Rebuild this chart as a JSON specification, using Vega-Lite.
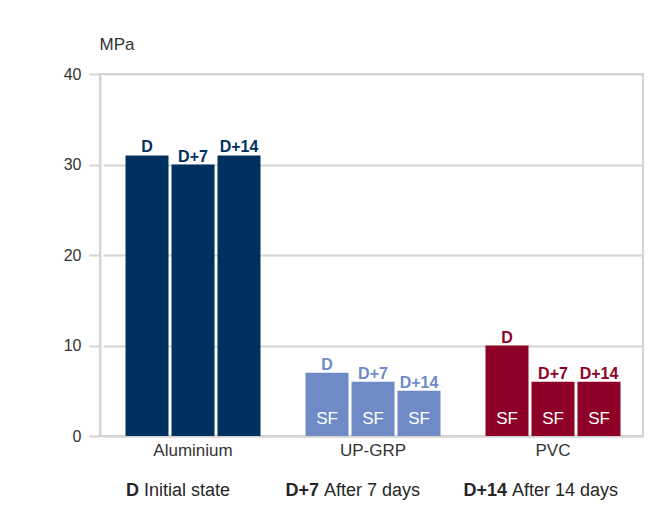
{
  "$schema": "https://vega.github.io/schema/vega-lite/v6.json",
  "width": 543,
  "height": 362,
  "autosize": "none",
  "padding": {"left": 100, "top": 74, "right": 17, "bottom": 82},
  "background": "white",
  "config": {
    "font": "Liberation Sans",
    "view": {"stroke": "#d4d4d4", "strokeWidth": 2}
  },
  "datasets": {
    "bars": [
      {"material": "Aluminium", "time": "D", "value": 31, "mode": ""},
      {"material": "Aluminium", "time": "D+7", "value": 30, "mode": ""},
      {"material": "Aluminium", "time": "D+14", "value": 31, "mode": ""},
      {"material": "UP-GRP", "time": "D", "value": 7, "mode": "SF"},
      {"material": "UP-GRP", "time": "D+7", "value": 6, "mode": "SF"},
      {"material": "UP-GRP", "time": "D+14", "value": 5, "mode": "SF"},
      {"material": "PVC", "time": "D", "value": 10, "mode": "SF"},
      {"material": "PVC", "time": "D+7", "value": 6, "mode": "SF"},
      {"material": "PVC", "time": "D+14", "value": 6, "mode": "SF"}
    ],
    "legend": [
      {"material": "Aluminium", "key": "D", "desc": "Initial state"},
      {"material": "UP-GRP", "key": "D+7", "desc": "After 7 days"},
      {"material": "PVC", "key": "D+14", "desc": "After 14 days"}
    ]
  },
  "data": {"name": "bars"},
  "encoding": {
    "x": {
      "field": "material",
      "type": "nominal",
      "sort": ["Aluminium", "UP-GRP", "PVC"],
      "scale": {"range": [3, 543], "paddingInner": 0, "paddingOuter": 0},
      "axis": {
        "title": null,
        "labelAngle": 0,
        "labelFontSize": 17,
        "labelColor": "#333333",
        "labelPadding": 6,
        "ticks": false,
        "grid": false,
        "domainColor": "#d4d4d4",
        "domainWidth": 2
      }
    }
  },
  "layer": [
    {
      "mark": {"type": "bar"},
      "encoding": {
        "xOffset": {
          "field": "time",
          "type": "nominal",
          "sort": ["D", "D+7", "D+14"],
          "scale": {"paddingInner": 0.065, "paddingOuter": 0.489}
        },
        "y": {
          "field": "value",
          "type": "quantitative",
          "scale": {"domain": [0, 40]},
          "axis": {
            "values": [0, 10, 20, 30, 40],
            "title": "MPa",
            "titleAngle": 0,
            "titleAlign": "left",
            "titleBaseline": "alphabetic",
            "titleX": -1,
            "titleY": -25,
            "titleFontWeight": "normal",
            "titleFontSize": 17,
            "titleColor": "#333333",
            "labelFontSize": 16,
            "labelColor": "#333333",
            "labelPadding": 8,
            "tickSize": 11,
            "tickColor": "#d4d4d4",
            "tickWidth": 2,
            "domainColor": "#d4d4d4",
            "domainWidth": 2,
            "gridColor": "#d4d4d4",
            "gridWidth": 2
          }
        },
        "color": {
          "field": "material",
          "type": "nominal",
          "scale": {"domain": ["Aluminium", "UP-GRP", "PVC"], "range": ["#00305f", "#6e8bc7", "#8f0029"]},
          "legend": null
        }
      }
    },
    {
      "mark": {"type": "text", "align": "center", "baseline": "alphabetic", "dy": -3, "fontWeight": "bold", "fontSize": 16},
      "encoding": {
        "xOffset": {"field": "time", "type": "nominal", "sort": ["D", "D+7", "D+14"]},
        "y": {"field": "value", "type": "quantitative"},
        "text": {"field": "time"},
        "color": {"field": "material", "type": "nominal"}
      }
    },
    {
      "transform": [{"filter": "datum.mode == 'SF'"}],
      "mark": {"type": "text", "align": "center", "baseline": "alphabetic", "dy": -12, "fontSize": 17, "color": "white"},
      "encoding": {
        "xOffset": {"field": "time", "type": "nominal", "sort": ["D", "D+7", "D+14"]},
        "y": {"datum": 0},
        "text": {"field": "mode"}
      }
    },
    {
      "data": {"name": "legend"},
      "transform": [{"filter": "datum.material != 'PVC'"}],
      "mark": {"type": "text", "align": "right", "baseline": "alphabetic", "dx": -54, "fontWeight": "bold", "fontSize": 18, "color": "#262626"},
      "encoding": {
        "y": {"value": 422},
        "text": {"field": "key"}
      }
    },
    {
      "data": {"name": "legend"},
      "transform": [{"filter": "datum.material != 'PVC'"}],
      "mark": {"type": "text", "align": "left", "baseline": "alphabetic", "dx": -49, "fontSize": 18, "color": "#262626"},
      "encoding": {
        "y": {"value": 422},
        "text": {"field": "desc"}
      }
    },
    {
      "data": {"name": "legend"},
      "transform": [{"filter": "datum.material == 'PVC'"}],
      "mark": {"type": "text", "align": "right", "baseline": "alphabetic", "dx": -46, "fontWeight": "bold", "fontSize": 18, "color": "#262626"},
      "encoding": {
        "y": {"value": 422},
        "text": {"field": "key"}
      }
    },
    {
      "data": {"name": "legend"},
      "transform": [{"filter": "datum.material == 'PVC'"}],
      "mark": {"type": "text", "align": "left", "baseline": "alphabetic", "dx": -41, "fontSize": 18, "color": "#262626"},
      "encoding": {
        "y": {"value": 422},
        "text": {"field": "desc"}
      }
    }
  ]
}
